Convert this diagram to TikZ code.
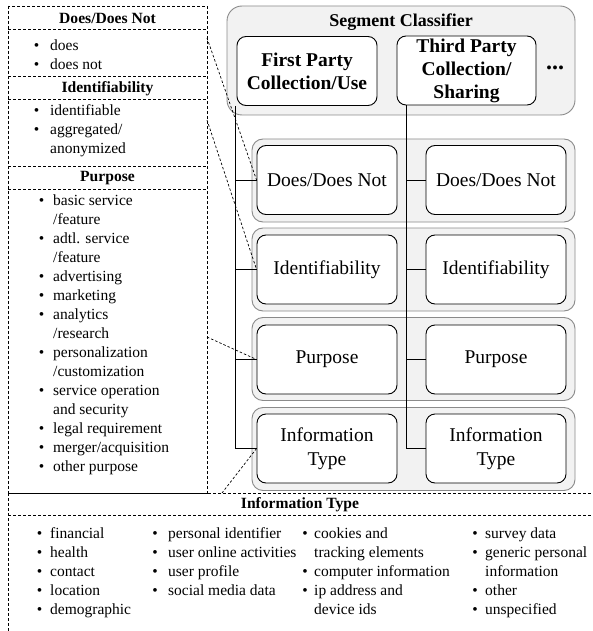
\documentclass[tikz,border=0pt]{standalone}
\usepackage{fontspec}
\setmainfont{Liberation Serif}
\definecolor{rowfill}{HTML}{F2F2F2}
\definecolor{rowline}{HTML}{8A8A8A}
\newcommand\bul[1]{\llap{\textbullet\hspace{#1pt}}}
\begin{document}
\begin{tikzpicture}[x=1pt,y=-1pt,
 lbl/.style={font=\fontsize{19.5}{23.5}\selectfont, align=center},
 blbl/.style={font=\fontsize{19.5}{23}\bfseries\selectfont, align=center},
 inbox/.style={draw=black, line width=0.9pt, fill=white, rounded corners=9pt, minimum width=140pt, minimum height=69pt, inner sep=0pt},
 rowbox/.style={draw=rowline, fill=rowfill, line width=0.9pt, rounded corners=11pt, minimum width=323pt, minimum height=83pt, inner sep=0pt},
 hdr/.style={font=\fontsize{15.6}{18}\bfseries\selectfont, inner sep=0pt},
 lst/.style={anchor=north west, inner sep=0pt, align=left, font=\fontsize{15.5}{19}\selectfont},
 dsh/.style={dash pattern=on 3pt off 2pt, line width=0.8pt},
 conn/.style={dash pattern=on 2.5pt off 2pt, line width=0.7pt},
 trunk/.style={line width=0.9pt}]
\useasboundingbox (0,0) rectangle (593,631);

% ---------- left dashed legend ----------
\draw[dsh] (8,6) rectangle (207,493);
\draw[dsh] (8,29) -- (207,29);
\draw[dsh] (8,76) -- (207,76);
\draw[dsh] (8,99) -- (207,99);
\draw[dsh] (8,166) -- (207,166);
\draw[dsh] (8,189) -- (207,189);
\node[hdr] (hdd) at (107.5,18.5) {Does/Does Not};
\node[hdr] (hid) at (107.5,88.5) {Identifiability};
\node[hdr] (hpu) at (107.5,178.5) {Purpose};
\node[lst] (ldd) at (50,37) {\strut\bul{11}does\\\bul{11}does not};
\node[lst] (lid) at (50,102.5) {\strut\bul{11}identifiable\\\bul{11}aggregated/\\anonymized};
\node[lst] (lpu) at (53,192) {\strut\bul{9}basic service\\/feature\\\bul{9}adtl. service\\/feature\\\bul{9}advertising\\\bul{9}marketing\\\bul{9}analytics\\/research\\\bul{9}personalization\\/customization\\\bul{9}service operation\\and security\\\bul{9}legal requirement\\\bul{9}merger/acquisition\\\bul{9}other purpose};

% ---------- bottom legend ----------
\draw[dsh] (8,493) -- (593,493);
\draw[dsh] (8,515) -- (593,515);
\draw[dsh] (8,493) -- (8,631);
\node[hdr] (hit) at (300,505) {Information Type};
\node[lst] (li1) at (50,525) {\strut\bul{8}financial\\\bul{8}health\\\bul{8}contact\\\bul{8}location\\\bul{8}demographic};
\node[lst] (li2) at (168,525) {\strut\bul{10.5}personal identifier\\\bul{10.5}user online activities\\\bul{10.5}user profile\\\bul{10.5}social media data};
\node[lst] (li3) at (314,525) {\strut\bul{6.5}cookies and\\tracking elements\\\bul{6.5}computer information\\\bul{6.5}ip address and\\device ids};
\node[lst] (li4) at (485,525) {\strut\bul{7.5}survey data\\\bul{7.5}generic personal\\information\\\bul{7.5}other\\\bul{7.5}unspecified};

% ---------- segment classifier ----------
\node[draw=rowline, fill=rowfill, line width=0.9pt, rounded corners=15pt, minimum width=348pt, minimum height=109pt, inner sep=0pt] (seg) at (401,60.5) {};
\node[font=\fontsize{18}{20}\bfseries\selectfont] (segt) at (401,22) {Segment Classifier};
\node[inbox, blbl] (fp) at (307,71) {First Party\\Collection/Use};
\node[inbox, blbl, minimum width=139pt] (tp) at (466.5,70.5) {Third Party\\Collection/\\Sharing};
\node[font=\fontsize{24}{26}\bfseries\selectfont, anchor=base, inner sep=0pt] (more) at (555,70) {...};

% ---------- rows ----------
\node[rowbox] (r1) at (413.5,180.5) {};
\node[rowbox] (r2) at (413.5,269.5) {};
\node[rowbox] (r3) at (413.5,359) {};
\node[rowbox] (r4) at (413.5,449) {};

\coordinate (lt) at ([xshift=-1pt]fp.south west);
\coordinate (rt) at ([xshift=10pt]tp.south west);

\node[inbox, lbl] (dd1) at (327,180) {Does/Does Not};
\node[inbox, lbl] (dd2) at (496,180) {Does/Does Not};
\node[inbox, lbl] (id1) at (327,269.5) {Identifiability};
\node[inbox, lbl] (id2) at (496,269.5) {Identifiability};
\node[inbox, lbl] (pu1) at (327,359.5) {Purpose};
\node[inbox, lbl] (pu2) at (496,359.5) {Purpose};
\node[inbox, lbl] (it1) at (327,448.5) {Information\\Type};
\node[inbox, lbl] (it2) at (496,448.5) {Information\\Type};

% trunks and stubs
\draw[trunk] (lt) |- (it1.west);
\draw[trunk] (lt |- dd1.west) -- (dd1.west);
\draw[trunk] (lt |- id1.west) -- (id1.west);
\draw[trunk] (lt |- pu1.west) -- (pu1.west);
\draw[trunk] (rt) |- (it2.west);
\draw[trunk] (rt |- dd2.west) -- (dd2.west);
\draw[trunk] (rt |- id2.west) -- (id2.west);
\draw[trunk] (rt |- pu2.west) -- (pu2.west);

% dashed connectors from legend
\coordinate (c1) at (207,38);
\coordinate (c2) at (207,120);
\coordinate (c3) at (207,337);
\coordinate (c4) at (222,493);
\draw[conn] (c1) -- (dd1.west);
\draw[conn] (c2) -- (id1.west);
\draw[conn] (c3) -- (pu1.west);
\draw[conn] (it1.west) -- (c4);
\end{tikzpicture}
\end{document}
